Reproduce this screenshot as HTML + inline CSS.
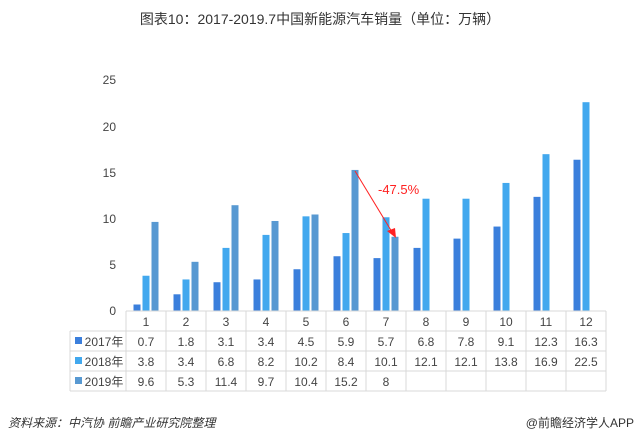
<!DOCTYPE html>
<html><head><meta charset="utf-8"><style>
body{margin:0;background:#fff;width:640px;height:443px;overflow:hidden;font-family:"Liberation Sans","Noto Sans CJK SC",sans-serif}
</style></head><body>
<svg width="640" height="443" xmlns="http://www.w3.org/2000/svg" font-family="Liberation Sans, Noto Sans CJK SC, sans-serif">
<text x="320" y="24" text-anchor="middle" font-size="14" fill="#333">图表10：2017-2019.7中国新能源汽车销量（单位：万辆）</text>
<g font-size="12" fill="#444" text-anchor="end">
<text x="116" y="315">0</text><text x="116" y="269">5</text><text x="116" y="223">10</text>
<text x="116" y="177">15</text><text x="116" y="131">20</text><text x="116" y="84">25</text>
</g>
<g id="bars"></g>
<line x1="355" y1="171" x2="392" y2="232" stroke="#f22" stroke-width="1"/>
<polygon points="396,238 387,231 395,228" fill="#f22"/>
<text x="378" y="194" font-size="13" fill="#f22">-47.5%</text>
<g stroke="#d9d9d9" stroke-width="1" fill="none" id="grid"></g>
<g font-size="12" fill="#444" text-anchor="middle" id="tbl"></g>
<text x="8" y="427" font-size="12" fill="#333" font-style="italic">资料来源：中汽协 前瞻产业研究院整理</text>
<text x="634" y="427" font-size="12" fill="#333" text-anchor="end">@前瞻经济学人APP</text>
</svg>
<script>
var d=[[0.7,1.8,3.1,3.4,4.5,5.9,5.7,6.8,7.8,9.1,12.3,16.3],[3.8,3.4,6.8,8.2,10.2,8.4,10.1,12.1,12.1,13.8,16.9,22.5],[9.6,5.3,11.4,9.7,10.4,15.2,8]];
var c=["#3b7fdc","#42a8ee","#5899d2"],ns="http://www.w3.org/2000/svg";
function el(p,t,a,tx){var e=document.createElementNS(ns,t);for(var k in a)e.setAttribute(k,a[k]);if(tx!=null)e.textContent=tx;p.appendChild(e);return e;}
var b=document.getElementById("bars"),g=document.getElementById("grid"),t=document.getElementById("tbl");
for(var s=0;s<3;s++)for(var i=0;i<d[s].length;i++){var h=d[s][i]*9.28,x=146+40*i-12.5+s*9;el(b,"rect",{x:x,y:311-h,width:7,height:h,fill:c[s]});}
var rows=[311,331,351,371,391];
rows.forEach(function(y,i){el(g,"line",{x1:i==0?126:70,y1:y,x2:606,y2:y});});
el(g,"line",{x1:70,y1:331,x2:70,y2:391});
for(var i=0;i<=12;i++)el(g,"line",{x1:126+40*i,y1:311,x2:126+40*i,y2:391});
for(var i=0;i<12;i++){el(t,"text",{x:146+40*i,y:326},i+1);for(var s=0;s<3;s++)if(d[s][i]!=null)el(t,"text",{x:146+40*i,y:346+20*s},d[s][i]);}
for(var s=0;s<3;s++){el(b,"rect",{x:75,y:337+20*s,width:7,height:7,fill:c[s]});el(t,"text",{x:104,y:346+20*s},(2017+s)+"年");}
</script>
</body></html>
